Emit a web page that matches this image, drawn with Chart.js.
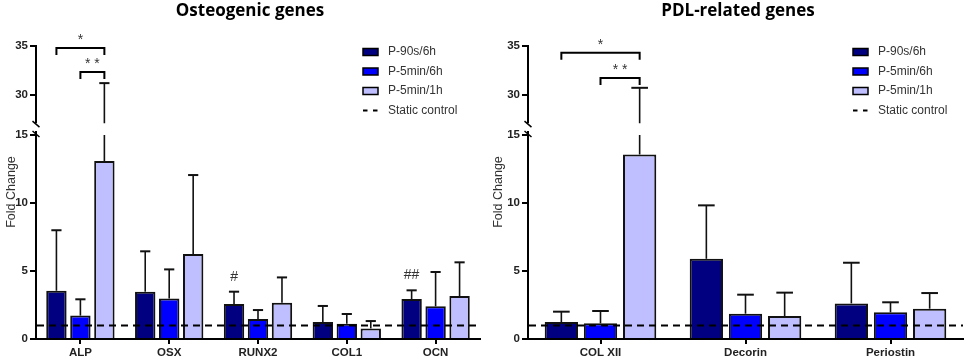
<!DOCTYPE html>
<html>
<head>
<meta charset="utf-8">
<script src="https://cdn.jsdelivr.net/npm/chart.js@4.4.1/dist/chart.umd.min.js"></script>
<style>
  body { margin: 0; background: #fff; }
  #wrap { position: relative; width: 969px; height: 359px; }
  canvas { position: absolute; top: 0; }
</style>
</head>
<body>
<div id="wrap">
  <canvas id="osteoChart" width="487" height="359" style="left:0"></canvas>
  <canvas id="pdlChart" width="482" height="359" style="left:487px"></canvas>
</div>
<script>
// Values: mean fold change and upper SD
const seriesNames = ['P-90s/6h', 'P-5min/6h', 'P-5min/1h'];
const seriesColors = ['#000080', '#0000ff', '#bfbfff'];
const staticControl = 1;

const osteoGenes = ['ALP', 'OSX', 'RUNX2', 'COL1', 'OCN'];
const osteo90s6h = [3.55, 3.48, 2.57, 1.25, 2.94];
const osteo5min6h = [1.72, 2.97, 1.47, 1.13, 2.40];
const osteo5min1h = [13.1, 6.25, 2.67, 0.78, 3.16];
const osteo90s6hSD = [4.45, 2.97, 0.91, 1.18, 0.64];
const osteo5min6hSD = [1.20, 2.15, 0.66, 0.71, 2.53];
const osteo5min1hSD = [18.1, 5.81, 1.86, 0.54, 2.48];
const osteoHash = ['', '', '#', '', '##'];
// [gene, from series, to series, bracket height, label]
const osteoBrackets = [[0, 0, 2, 34.8, '*'], [0, 1, 2, 32.35, '* *']];

const pdlGenes = ['COL XII', 'Decorin', 'Periostin'];
const pdl90s6h = [1.25, 5.90, 2.62];
const pdl5min6h = [1.15, 1.86, 1.96];
const pdl5min1h = [13.58, 1.69, 2.23];
const pdl90s6hSD = [0.76, 3.93, 2.99];
const pdl5min6hSD = [0.91, 1.40, 0.74];
const pdl5min1hSD = [17.14, 1.72, 1.15];
const pdlHash = ['', '', ''];
const pdlBrackets = [[0, 0, 2, 34.3, '*'], [0, 1, 2, 31.73, '* *']];

// broken y axis: lower and upper part
const lowTicks = [0, 5, 10, 15];
const highTicks = [30, 35];
const lowRange = [0, 15.3];
const highRange = [26.3, 35];
const highDrawnMin = 27.1;

const FONT = '"Liberation Sans", Arial, sans-serif';

function extrasPlugin(opts) {
    return {
        id: 'extras',
        afterDatasetsDraw(chart) {
            const ctx = chart.ctx;
            const area = chart.chartArea;
            const y = chart.scales.y;
            const yTop = chart.scales.yTop;
            ctx.save();
            ctx.strokeStyle = '#111';

            // error bars (upper only)
            opts.sds.forEach((sd, ds) => {
                chart.getDatasetMeta(ds).data.forEach((bar, i) => {
                    const top = opts.values[ds][i] + sd[i];
                    const cap = bar.width * 0.5;
                    ctx.lineWidth = 1.6;
                    ctx.beginPath();
                    let capY;
                    if (top <= lowRange[1]) {
                        capY = y.getPixelForValue(top);
                        ctx.moveTo(bar.x, bar.y);
                        ctx.lineTo(bar.x, capY);
                    } else {
                        capY = yTop.getPixelForValue(top);
                        ctx.moveTo(bar.x, bar.y);
                        ctx.lineTo(bar.x, y.getPixelForValue(15));
                        ctx.moveTo(bar.x, yTop.getPixelForValue(highDrawnMin));
                        ctx.lineTo(bar.x, capY);
                    }
                    ctx.stroke();
                    ctx.lineWidth = 2;
                    ctx.beginPath();
                    ctx.moveTo(bar.x - cap / 2, capY);
                    ctx.lineTo(bar.x + cap / 2, capY);
                    ctx.stroke();

                    // # marks above first series
                    if (ds === 0 && opts.hash[i]) {
                        ctx.fillStyle = '#333';
                        ctx.font = '14px ' + FONT;
                        ctx.textAlign = 'center';
                        ctx.textBaseline = 'middle';
                        ctx.fillText(opts.hash[i], bar.x, capY - 15);
                    }
                });
            });

            // static control dashed line
            const cy = y.getPixelForValue(staticControl);
            ctx.strokeStyle = '#000';
            ctx.lineWidth = 2;
            ctx.setLineDash([7, 5]);
            ctx.beginPath();
            ctx.moveTo(area.left + 1, cy);
            ctx.lineTo(area.right, cy);
            ctx.stroke();
            ctx.restore();
        },
        afterDraw(chart) {
            const ctx = chart.ctx;
            const y = chart.scales.y;
            const yTop = chart.scales.yTop;
            const ax = chart.chartArea.left;
            ctx.save();
            ctx.strokeStyle = '#000';
            ctx.fillStyle = '#000';

            // title
            ctx.font = 'bold 17px "Open Sans", sans-serif';
            ctx.textAlign = 'center';
            ctx.textBaseline = 'middle';
            ctx.fillText(opts.title, opts.titleX, 11);

            // y axis lines with break marks
            ctx.lineWidth = 2;
            ctx.beginPath();
            ctx.moveTo(ax, y.getPixelForValue(0) + 1);
            ctx.lineTo(ax, y.getPixelForValue(lowRange[1]));
            ctx.moveTo(ax, yTop.getPixelForValue(highRange[1]) - 1);
            ctx.lineTo(ax, yTop.getPixelForValue(highDrawnMin));
            ctx.stroke();
            ctx.lineWidth = 1.5;
            [yTop.getPixelForValue(highDrawnMin) + 1, y.getPixelForValue(lowRange[1]) + 3].forEach(by => {
                ctx.beginPath();
                ctx.moveTo(ax - 3.5, by - 3);
                ctx.lineTo(ax + 3.5, by + 3);
                ctx.stroke();
            });

            // y axis title
            ctx.save();
            ctx.translate(12, 192);
            ctx.rotate(-Math.PI / 2);
            ctx.fillStyle = '#333';
            ctx.font = '12.5px ' + FONT;
            ctx.fillText('Fold Change', 0, 0);
            ctx.restore();

            // significance brackets
            ctx.lineWidth = 2;
            opts.brackets.forEach(b => {
                const x1 = chart.getDatasetMeta(b[1]).data[b[0]].x;
                const x2 = chart.getDatasetMeta(b[2]).data[b[0]].x;
                const by = yTop.getPixelForValue(b[3]);
                ctx.beginPath();
                ctx.moveTo(x1, by + 7);
                ctx.lineTo(x1, by);
                ctx.lineTo(x2, by);
                ctx.lineTo(x2, by + 7);
                ctx.stroke();
                ctx.fillStyle = '#333';
                ctx.font = '14px ' + FONT;
                ctx.textAlign = 'center';
                ctx.fillText(b[4], (x1 + x2) / 2, by - 8);
            });

            // legend
            const lx = opts.legendX;
            const rows = [52, 71.5, 91, 110.5];
            ctx.font = '12px ' + FONT;
            ctx.textAlign = 'left';
            seriesNames.forEach((name, k) => {
                ctx.fillStyle = seriesColors[k];
                ctx.fillRect(lx, rows[k] - 3.5, 15, 7);
                ctx.lineWidth = 1.5;
                ctx.strokeRect(lx, rows[k] - 3.5, 15, 7);
                ctx.fillStyle = '#333';
                ctx.fillText(name, lx + 25, rows[k]);
            });
            ctx.lineWidth = 2;
            ctx.beginPath();
            ctx.moveTo(lx, rows[3]);
            ctx.lineTo(lx + 4.5, rows[3]);
            ctx.moveTo(lx + 10, rows[3]);
            ctx.lineTo(lx + 14.5, rows[3]);
            ctx.stroke();
            ctx.fillText('Static control', lx + 25, rows[3]);
            ctx.restore();
        }
    };
}

function makeChart(id, genes, values, sds, opts) {
    const ctx = document.getElementById(id).getContext('2d');
    const tickFont = { family: FONT, size: 11.5, weight: 'bold' };
    opts.values = values;
    opts.sds = sds;
    return new Chart(ctx, {
        type: 'bar',
        data: {
            labels: genes,
            datasets: values.map((v, k) => ({
                label: seriesNames[k],
                data: v,
                backgroundColor: seriesColors[k],
                borderColor: '#111',
                borderWidth: 2,
                borderSkipped: 'start',
                categoryPercentage: 0.81,
                barPercentage: 0.85
            }))
        },
        options: {
            responsive: false,
            animation: false,
            layout: { padding: { top: 46, right: opts.rightPad, bottom: 0, left: 0 } },
            plugins: { legend: { display: false }, tooltip: { enabled: false } },
            scales: {
                x: {
                    grid: { drawOnChartArea: false, offset: false, tickLength: 5, color: '#000', lineWidth: 2 },
                    border: { display: true, color: '#000', width: 2 },
                    ticks: { color: '#222', font: tickFont, padding: 2 },
                    afterFit: s => { s.height = 20; }
                },
                y: {
                    position: 'left',
                    stack: 'broken',
                    stackWeight: 208,
                    min: lowRange[0],
                    max: lowRange[1],
                    afterBuildTicks: s => { s.ticks = lowTicks.map(v => ({ value: v })); },
                    grid: { drawOnChartArea: false, tickLength: 6, color: '#000', lineWidth: 2 },
                    border: { display: false },
                    ticks: { color: '#222', font: tickFont, padding: 2 },
                    afterFit: s => { s.width = opts.yWidth; }
                },
                yTop: {
                    axis: 'y',
                    position: 'left',
                    stack: 'broken',
                    stackWeight: 85,
                    min: highRange[0],
                    max: highRange[1],
                    afterBuildTicks: s => { s.ticks = highTicks.map(v => ({ value: v })); },
                    grid: { drawOnChartArea: false, tickLength: 6, color: '#000', lineWidth: 2 },
                    border: { display: false },
                    ticks: { color: '#222', font: tickFont, padding: 2 },
                    afterFit: s => { s.width = opts.yWidth; }
                }
            }
        },
        plugins: [extrasPlugin(opts)]
    });
}

makeChart('osteoChart', osteoGenes,
    [osteo90s6h, osteo5min6h, osteo5min1h],
    [osteo90s6hSD, osteo5min6hSD, osteo5min1hSD],
    { title: 'Osteogenic genes', titleX: 250, legendX: 363, yWidth: 36, rightPad: 7,
      hash: osteoHash, brackets: osteoBrackets });

makeChart('pdlChart', pdlGenes,
    [pdl90s6h, pdl5min6h, pdl5min1h],
    [pdl90s6hSD, pdl5min6hSD, pdl5min1hSD],
    { title: 'PDL-related genes', titleX: 251, legendX: 366, yWidth: 41, rightPad: 6,
      hash: pdlHash, brackets: pdlBrackets });
</script>
</body>
</html>
